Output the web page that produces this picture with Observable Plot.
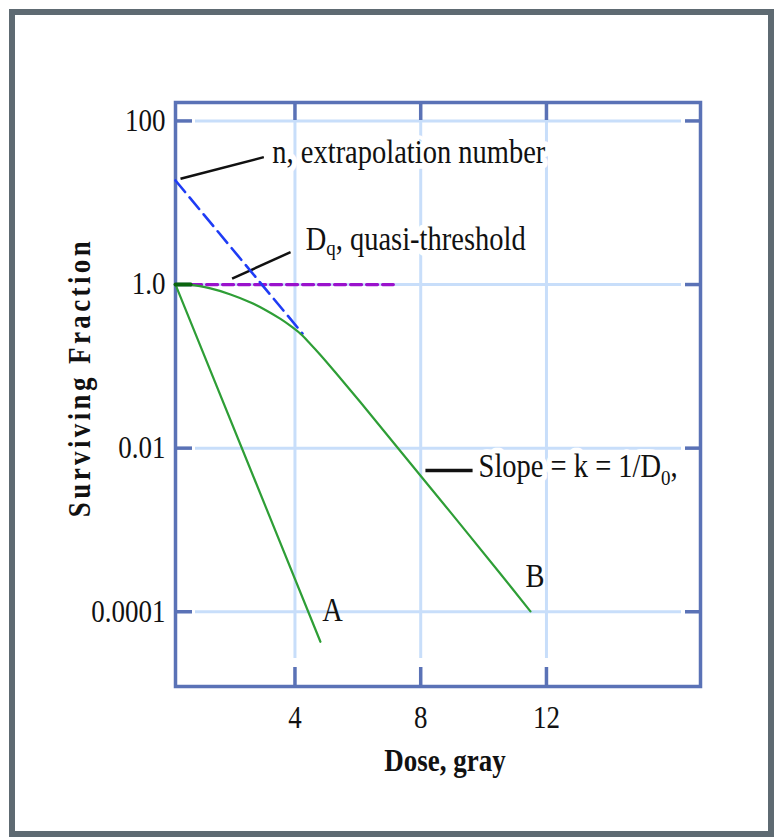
<!DOCTYPE html>
<html>
<head>
<meta charset="utf-8">
<script src="https://cdn.jsdelivr.net/npm/d3@7"></script>
<script src="https://cdn.jsdelivr.net/npm/@observablehq/plot@0.6"></script>
<style>
  html, body { margin: 0; padding: 0; background: #fff; }
  #wrap { position: relative; width: 774px; height: 837px; overflow: hidden; background: #fff; }
  #chart { position: absolute; left: 0; top: 0; }
  #border { position: absolute; left: 9px; top: 9px; width: 765px; height: 828px; box-sizing: border-box; border: 6px solid #5e6a72; pointer-events: none; }
</style>
</head>
<body>
<div id="wrap">
  <div id="chart"></div>
  <div id="border"></div>
</div>
<script>
// ---- data ----
const xTicks = [4, 8, 12];
const xTickLabels = ["4", "8", "12"];
const yTicks = [100, 1, 0.01, 0.0001];
const yTickLabels = ["100", "1.0", "0.01", "0.0001"];
const xAxisLabel = "Dose, gray";
const yAxisLabel = "Surviving Fraction";

// Curve A (straight on log scale)
const doseA = [0.2, 4.81];
const sfA = [1.0, 4.3e-5];

// Curve B (shouldered)
const doseB = [0.2, 0.68, 1.31, 1.95, 2.59, 3.06, 3.54, 3.86, 4.18, 4.49, 4.81, 5.29, 6.09, 7.26, 8.95, 10.54, 11.49];
const sfB = [1.0, 0.99, 0.896, 0.757, 0.604, 0.489, 0.380, 0.312, 0.249, 0.188, 0.138, 0.0842, 0.0362, 0.0102, 0.00164, 0.00029, 0.000101];

// dark shoulder start
const doseShoulder = [0.2, 0.68];
const sfShoulder = [1.0, 1.0];

// extrapolation (blue dashed)
const doseExtrap = [0.2, 4.24];
const sfExtrap = [18.7, 0.252];

// quasi-threshold (purple dashed)
const doseDq = [0.68, 7.13];
const sfDq = [1.0, 1.0];

// annotation leaders
const leaderX1 = [0.36, 2.0, 8.15];
const leaderY1 = [19.6, 1.18, 0.00533];
const leaderX2 = [3.01, 3.86, 9.65];
const leaderY2 = [36.1, 2.49, 0.00533];
const leaderW = [2.5, 2.5, 3.5];

// annotation labels (the first three sit on a white box that breaks the grid)
const annoText = ["n, extrapolation number", "Dq, quasi-threshold", "Slope = k = 1/D0,", "A", "B"];
const annoDose = [3.28, 4.34, 9.84, 4.87, 11.33];
const annoSF = [30.2, 2.61, 0.00442, 7.67e-5, 0.0002];
const annoBoxed = [true, true, true, false, false];

// subscripted labels
const subSpecs = [
  {label: "Dq, quasi-threshold", base: "D", sub: "q", rest: ", quasi-threshold", shift: 4},
  {label: "Slope = k = 1/D0,", base: "Slope = k = 1/D", sub: "0", rest: ",", shift: 7}
];

// ---- build tables ----
const zip = (xs, ys) => xs.map((x, i) => ({dose: x, sf: ys[i]}));
const lineA = zip(doseA, sfA);
const lineB = zip(doseB, sfB);
const shoulder = zip(doseShoulder, sfShoulder);
const extrap = zip(doseExtrap, sfExtrap);
const dq = zip(doseDq, sfDq);
const leaders = leaderX1.map((x, i) => ({x1: x, y1: leaderY1[i], x2: leaderX2[i], y2: leaderY2[i], w: leaderW[i]}));
const annos = annoText.map((t, i) => ({text: t, dose: annoDose[i], sf: annoSF[i], boxed: annoBoxed[i]}));
const xLabelMap = new Map(xTicks.map((t, i) => [t, xTickLabels[i]]));
const yLabelMap = new Map(yTicks.map((t, i) => [t, yTickLabels[i]]));

const frameColor = "#5a72b6";
const gridColor = "#c8defa";
const green = "#2e9e36";
const serif = "'Liberation Serif', 'Times New Roman', Times, serif";

const W = 774, H = 837;
const mL = 175, mR = 74, mT = 102, mB = 151;
const fw = W - mL - mR, fh = H - mT - mB;

const plot = Plot.plot({
  width: W, height: H,
  marginLeft: mL, marginRight: mR, marginTop: mT, marginBottom: mB,
  x: {domain: [0.2, 16.9]},
  y: {type: "log", domain: [1.22e-5, 168]},
  style: {background: "none", fontFamily: serif, fontSize: "27px", color: "#111"},
  marks: [
    // grid
    Plot.ruleX(xTicks, {stroke: gridColor, strokeWidth: 3, insetTop: 20, insetBottom: 28}),
    Plot.ruleY(yTicks, {stroke: gridColor, strokeWidth: 3, insetLeft: 20, insetRight: 19}),
    // inner ticks
    Plot.ruleX(xTicks, {stroke: frameColor, strokeWidth: 3.5, insetTop: fh - 19}),
    Plot.ruleX(xTicks, {stroke: frameColor, strokeWidth: 3.5, insetBottom: fh - 18}),
    Plot.ruleY(yTicks, {stroke: frameColor, strokeWidth: 3.5, insetRight: fw - 17}),
    Plot.ruleY(yTicks, {stroke: frameColor, strokeWidth: 3.5, insetLeft: fw - 15}),
    Plot.frame({stroke: frameColor, strokeWidth: 3.5}),
    // axes
    Plot.axisX(xTicks, {tickSize: 0, tickPadding: 19, tickFormat: d => xLabelMap.get(d), label: null, fill: "#111"}),
    Plot.axisY(yTicks, {tickSize: 0, tickPadding: 10, tickFormat: d => yLabelMap.get(d), label: null, fill: "#111"}),
    // axis titles
    Plot.text([xAxisLabel], {text: d => d, frameAnchor: "bottom", textAnchor: "middle", dx: 7, dy: 84, lineAnchor: "bottom", fontWeight: "bold", fontSize: 27, fill: "#111"}),
    Plot.text([yAxisLabel], {text: d => d, frameAnchor: "left", textAnchor: "middle", dx: -86, dy: -17, rotate: -90, lineAnchor: "bottom", fontWeight: "bold", fontSize: 27, fill: "#111"}),
    // annotation halos, then annotation text
    Plot.text(annos.filter(d => d.boxed), {x: "dose", y: "sf", text: "text", textAnchor: "start", lineAnchor: "bottom", fontSize: 28.5, fill: "white", stroke: "white", strokeWidth: 10}),
    Plot.text(annos, {x: "dose", y: "sf", text: "text", textAnchor: "start", lineAnchor: "bottom", fontSize: 28.5, fill: "#111"}),
    // leaders
    Plot.link(leaders, {x1: "x1", y1: "y1", x2: "x2", y2: "y2", stroke: "#111", strokeWidth: d => d.w}),
    // reference lines
    Plot.line(dq, {x: "dose", y: "sf", stroke: "#9a12cc", strokeWidth: 3.2, strokeDasharray: "11,5"}),
    Plot.line(extrap, {x: "dose", y: "sf", stroke: "#1f3cf5", strokeWidth: 2.6, strokeDasharray: "15,7"}),
    // survival curves
    Plot.line(lineA, {x: "dose", y: "sf", stroke: green, strokeWidth: 2.2}),
    Plot.line(lineB, {x: "dose", y: "sf", stroke: green, strokeWidth: 2.2, curve: "catmull-rom"}),
    Plot.line(shoulder, {x: "dose", y: "sf", stroke: "#0b650f", strokeWidth: 4})
  ]
});

document.getElementById("chart").appendChild(plot);

// subscripts
const NS = "http://www.w3.org/2000/svg";
plot.querySelectorAll("text").forEach(t => {
  const spec = subSpecs.find(s => s.label === t.textContent);
  if (!spec) return;
  t.textContent = "";
  const a = document.createElementNS(NS, "tspan");
  a.textContent = spec.base;
  const b = document.createElementNS(NS, "tspan");
  b.textContent = spec.sub;
  b.setAttribute("dy", spec.shift);
  b.setAttribute("font-size", "19");
  const c = document.createElementNS(NS, "tspan");
  c.textContent = spec.rest;
  c.setAttribute("dy", -spec.shift);
  t.append(a, b, c);
});
// letter spacing on the y title
plot.querySelectorAll("text").forEach(t => {
  if (t.textContent === yAxisLabel) t.setAttribute("letter-spacing", "3.4");
});
// the reference lettering is tall and narrow: stretch glyphs vertically about their anchor
plot.querySelectorAll("text").forEach(t => {
  const tr = t.getAttribute("transform") || "";
  if (tr) t.setAttribute("transform", tr + " scale(1,1.15)");
});
</script>
</body>
</html>
